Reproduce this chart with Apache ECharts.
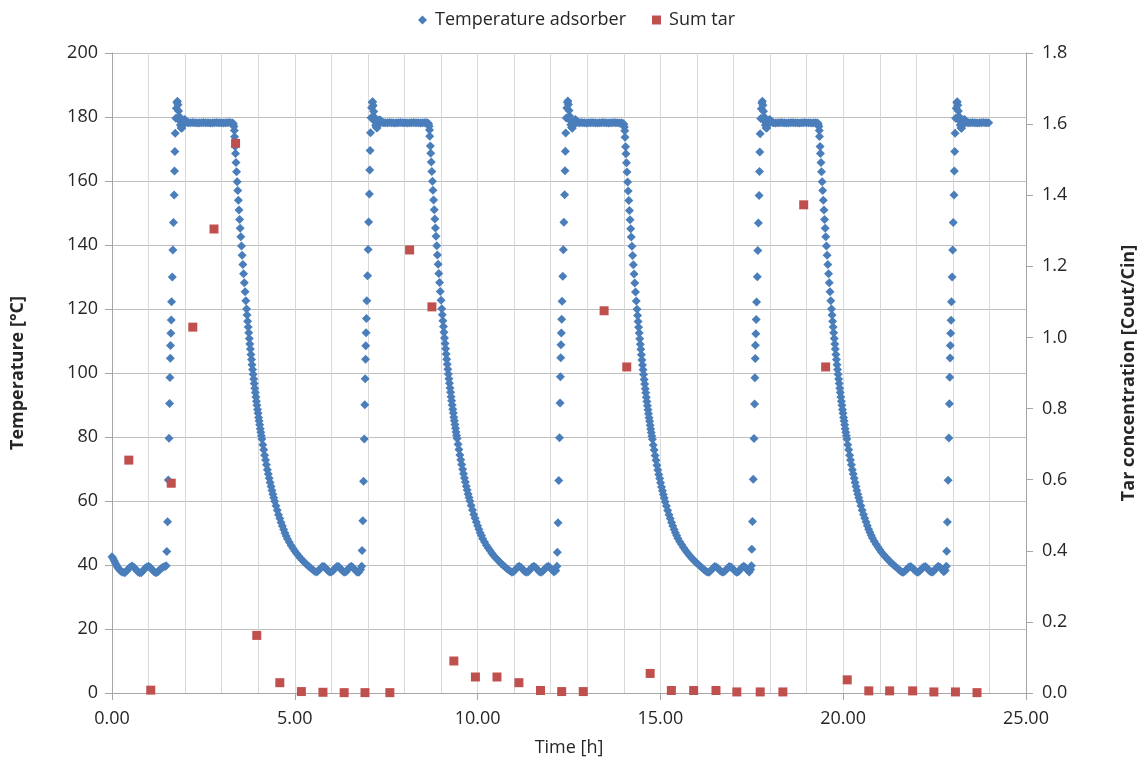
<!DOCTYPE html>
<html>
<head>
<meta charset="utf-8">
<title>Temperature adsorber / Sum tar</title>
<script src="https://cdn.jsdelivr.net/npm/echarts@6/dist/echarts.min.js"></script>
<style>
  html, body { margin: 0; padding: 0; background: #fff; }
  #chart { width: 1146px; height: 762px; }
</style>
</head>
<body>
<div id="chart"></div>
<script>
// time [h] at which each heating cycle starts
const cycleStarts = [1.50, 6.84, 12.18, 17.50, 22.83];

// temperature before the first heating: [time h, °C]
const tempStartup = [
  [0.00,42.6],[0.03,42.0],[0.06,41.3],[0.09,40.6],[0.12,40.0],[0.15,39.4],[0.18,38.9],[0.21,38.4],
  [0.25,38.0],[0.30,37.7],[0.35,37.6],[0.40,38.1],[0.45,38.8],[0.50,39.4],[0.55,39.7],[0.60,39.3],
  [0.65,38.7],[0.70,38.0],[0.75,37.6],[0.80,37.6],[0.85,38.2],[0.90,38.9],[0.95,39.4],[1.00,39.6],
  [1.05,39.2],[1.10,38.5],[1.15,37.9],[1.20,37.6],[1.25,37.8],[1.30,38.4],[1.35,39.0],[1.40,39.4],
  [1.45,39.5],[1.48,39.8]
];

// heating cycles: [hours since cycle start, °C]
const tempCycle1 = [
  [0.00,44.2],[0.02,53.5],[0.04,66.6],[0.06,79.6],[0.075,90.5],[0.085,98.6],[0.095,104.6],[0.10,108.6],
  [0.11,112.4],[0.12,116.6],[0.13,122.3],[0.15,130.0],[0.165,138.4],[0.18,147.0],[0.20,155.6],[0.21,163.1],
  [0.22,169.2],[0.23,174.9],[0.245,179.6],[0.26,182.7],[0.275,184.5],[0.29,184.9],[0.305,183.8],[0.32,181.9],
  [0.335,180.2],[0.35,178.8],[0.37,177.5],[0.39,176.6],[0.41,176.5],[0.43,177.3],[0.45,178.3],[0.47,179.0],
  [0.49,179.2],[0.51,178.9],[0.54,178.5],[0.57,178.3],
  [0.60,178.2],[0.65,178.2],[0.70,178.3],[0.75,178.2],[0.80,178.2],[0.85,178.1],[0.90,178.2],[0.95,178.2],
  [1.00,178.3],[1.05,178.2],[1.10,178.2],[1.15,178.2],[1.20,178.1],[1.25,178.2],[1.30,178.2],[1.35,178.3],
  [1.40,178.2],[1.45,178.2],[1.50,178.2],[1.55,178.1],[1.60,178.2],[1.65,178.2],[1.70,178.3],[1.75,178.2],
  [1.80,178.1],[1.82,177.8],[1.835,177.0],[1.845,175.8],[1.852,173.8],[1.867,170.8],[1.878,168.6],[1.892,165.8],
  [1.907,162.9],[1.924,159.8],[1.939,157.0],[1.956,154.0],[1.974,150.9],[1.991,148.0],[2.007,145.2],[2.023,142.6],
  [2.042,139.7],[2.06,136.8],[2.08,133.9],[2.099,131.0],[2.119,128.2],[2.139,125.4],[2.16,122.6],
  [2.18,120.0],[2.195,118.1],[2.21,116.2],[2.225,114.4],[2.24,112.6],[2.255,110.8],[2.27,109.1],[2.285,107.5],
  [2.30,105.8],[2.315,104.2],[2.33,102.6],[2.345,101.1],[2.36,99.6],[2.375,98.1],[2.39,96.7],[2.405,95.2],
  [2.42,93.9],[2.435,92.5],[2.45,91.2],[2.465,89.9],[2.48,88.6],[2.495,87.4],[2.51,86.1],[2.525,85.0],
  [2.54,83.8],[2.555,82.6],[2.57,81.5],[2.585,80.4],[2.60,79.4],[2.625,77.6],[2.65,76.0],[2.675,74.3],
  [2.70,72.8],[2.725,71.3],[2.75,69.8],[2.775,68.4],[2.80,67.1],[2.825,65.8],[2.85,64.5],[2.875,63.3],
  [2.90,62.1],[2.925,61.0],[2.95,59.9],[2.985,58.5],[3.02,57.1],[3.055,55.7],[3.09,54.5],[3.125,53.3],
  [3.16,52.2],[3.195,51.1],[3.23,50.0],[3.265,49.1],[3.30,48.1],[3.35,47.1],[3.40,46.1],[3.45,45.2],
  [3.50,44.4],[3.55,43.6],[3.60,42.9],[3.65,42.2],[3.70,41.6],[3.75,41.0],[3.80,40.4],[3.85,39.9],
  [3.90,39.4],[3.95,38.9],[4.00,38.4],[4.05,38.0],
  [4.10,37.8],[4.15,38.3],[4.20,38.9],[4.25,39.5],[4.30,39.5],[4.35,39.0],[4.40,38.3],[4.45,37.8],
  [4.50,37.8],[4.55,38.3],[4.60,39.0],[4.65,39.5],[4.70,39.5],[4.75,38.9],[4.80,38.2],[4.85,37.7],
  [4.90,37.9],[4.95,38.6],[5.00,39.3],[5.05,39.6],[5.10,39.1],[5.15,38.4],[5.20,37.8],[5.25,37.7],
  [5.30,38.6],[5.33,39.6]
];

const tempCycle2 = [
  [0.00,44.5],[0.02,53.8],[0.04,66.2],[0.06,79.4],[0.075,90.1],[0.085,98.2],[0.095,104.3],[0.10,108.5],
  [0.11,112.6],[0.12,117.0],[0.13,122.6],[0.15,130.4],[0.165,138.6],[0.18,147.2],[0.20,155.9],[0.21,163.4],
  [0.22,169.5],[0.23,175.1],[0.245,179.8],[0.26,182.9],[0.275,184.6],[0.29,184.8],[0.305,183.6],[0.32,181.7],
  [0.335,180.0],[0.35,178.6],[0.37,177.4],[0.39,176.7],[0.41,176.6],[0.43,177.4],[0.45,178.4],[0.47,179.1],
  [0.49,179.1],[0.51,178.8],[0.54,178.4],[0.57,178.3],
  [0.60,178.2],[0.65,178.2],[0.70,178.2],[0.75,178.3],[0.80,178.2],[0.85,178.2],[0.90,178.1],[0.95,178.2],
  [1.00,178.2],[1.05,178.3],[1.10,178.2],[1.15,178.2],[1.20,178.2],[1.25,178.1],[1.30,178.2],[1.35,178.2],
  [1.40,178.3],[1.45,178.2],[1.50,178.2],[1.55,178.2],[1.60,178.1],[1.65,178.2],[1.70,178.2],[1.75,178.3],
  [1.80,178.1],[1.82,177.8],[1.835,177.1],[1.845,175.9],[1.852,174.0],[1.867,170.9],[1.878,168.7],[1.892,165.9],
  [1.907,163.0],[1.924,159.9],[1.939,157.1],[1.956,154.1],[1.974,151.0],[1.991,148.1],[2.007,145.3],[2.023,142.7],
  [2.042,139.8],[2.06,136.9],[2.08,134.0],[2.099,131.1],[2.119,128.3],[2.139,125.5],[2.16,122.7],
  [2.18,120.1],[2.195,118.2],[2.21,116.3],[2.225,114.5],[2.24,112.7],[2.255,110.9],[2.27,109.2],[2.285,107.6],
  [2.30,105.9],[2.315,104.3],[2.33,102.7],[2.345,101.2],[2.36,99.7],[2.375,98.2],[2.39,96.8],[2.405,95.3],
  [2.42,94.0],[2.435,92.6],[2.45,91.3],[2.465,90.0],[2.48,88.7],[2.495,87.5],[2.51,86.2],[2.525,85.1],
  [2.54,83.9],[2.555,82.7],[2.57,81.6],[2.585,80.5],[2.60,79.5],[2.625,77.7],[2.65,76.1],[2.675,74.4],
  [2.70,72.9],[2.725,71.4],[2.75,69.9],[2.775,68.5],[2.80,67.2],[2.825,65.9],[2.85,64.6],[2.875,63.4],
  [2.90,62.2],[2.925,61.1],[2.95,60.0],[2.985,58.6],[3.02,57.2],[3.055,55.8],[3.09,54.6],[3.125,53.4],
  [3.16,52.3],[3.195,51.2],[3.23,50.1],[3.265,49.2],[3.30,48.2],[3.35,47.2],[3.40,46.2],[3.45,45.3],
  [3.50,44.5],[3.55,43.7],[3.60,43.0],[3.65,42.3],[3.70,41.7],[3.75,41.1],[3.80,40.5],[3.85,40.0],
  [3.90,39.5],[3.95,39.0],[4.00,38.5],[4.05,38.1],
  [4.10,37.7],[4.15,38.0],[4.20,38.7],[4.25,39.3],[4.30,39.6],[4.35,39.2],[4.40,38.6],[4.45,38.0],
  [4.50,37.7],[4.55,38.0],[4.60,38.7],[4.65,39.3],[4.70,39.6],[4.75,39.2],[4.80,38.5],[4.85,37.9],
  [4.90,37.7],[4.95,38.1],[5.00,38.8],[5.05,39.4],[5.10,39.6],[5.15,39.1],[5.20,38.4],[5.25,37.8],
  [5.30,38.3],[5.33,39.6]
];

const tempCycle3 = [
  [0.00,44.0],[0.02,53.2],[0.04,66.4],[0.06,79.8],[0.075,90.6],[0.085,98.8],[0.095,104.8],[0.10,108.8],
  [0.11,112.5],[0.12,116.8],[0.13,122.4],[0.15,130.2],[0.165,138.5],[0.18,147.1],[0.20,155.7],[0.21,163.2],
  [0.22,169.3],[0.23,175.0],[0.245,179.7],[0.26,182.8],[0.275,184.6],[0.29,185.0],[0.305,183.9],[0.32,182.0],
  [0.335,180.3],[0.35,178.9],[0.37,177.6],[0.39,176.7],[0.41,176.5],[0.43,177.2],[0.45,178.2],[0.47,178.9],
  [0.49,179.2],[0.51,179.0],[0.54,178.6],[0.57,178.3],
  [0.60,178.2],[0.65,178.3],[0.70,178.2],[0.75,178.2],[0.80,178.1],[0.85,178.2],[0.90,178.2],[0.95,178.3],
  [1.00,178.2],[1.05,178.2],[1.10,178.1],[1.15,178.2],[1.20,178.2],[1.25,178.3],[1.30,178.2],[1.35,178.2],
  [1.40,178.1],[1.45,178.2],[1.50,178.2],[1.55,178.3],[1.60,178.2],[1.65,178.2],[1.70,178.1],[1.75,178.2],
  [1.80,178.0],[1.82,177.7],[1.835,176.9],[1.845,175.7],[1.852,173.7],[1.867,170.7],[1.878,168.5],[1.892,165.7],
  [1.907,162.8],[1.924,159.7],[1.939,156.9],[1.956,153.9],[1.974,150.8],[1.991,147.9],[2.007,145.1],[2.023,142.5],
  [2.042,139.6],[2.06,136.7],[2.08,133.8],[2.099,130.9],[2.119,128.1],[2.139,125.3],[2.16,122.5],
  [2.18,119.9],[2.195,118.0],[2.21,116.1],[2.225,114.3],[2.24,112.5],[2.255,110.7],[2.27,109.0],[2.285,107.4],
  [2.30,105.7],[2.315,104.1],[2.33,102.5],[2.345,101.0],[2.36,99.5],[2.375,98.0],[2.39,96.6],[2.405,95.1],
  [2.42,93.8],[2.435,92.4],[2.45,91.1],[2.465,89.8],[2.48,88.5],[2.495,87.3],[2.51,86.0],[2.525,84.9],
  [2.54,83.7],[2.555,82.5],[2.57,81.4],[2.585,80.3],[2.60,79.3],[2.625,77.5],[2.65,75.9],[2.675,74.2],
  [2.70,72.7],[2.725,71.2],[2.75,69.7],[2.775,68.3],[2.80,67.0],[2.825,65.7],[2.85,64.4],[2.875,63.2],
  [2.90,62.0],[2.925,60.9],[2.95,59.8],[2.985,58.4],[3.02,57.0],[3.055,55.7],[3.09,54.5],[3.125,53.3],
  [3.16,52.2],[3.195,51.1],[3.23,50.1],[3.265,49.2],[3.30,48.3],[3.35,47.3],[3.40,46.4],[3.45,45.5],
  [3.50,44.7],[3.55,43.9],[3.60,43.2],[3.65,42.5],[3.70,41.9],[3.75,41.3],[3.80,40.7],[3.85,40.2],
  [3.90,39.7],[3.95,39.2],[4.00,38.7],[4.05,38.2],
  [4.10,37.8],[4.15,37.7],[4.20,38.3],[4.25,38.9],[4.30,39.5],[4.35,39.4],[4.40,38.9],[4.45,38.3],
  [4.50,37.8],[4.55,37.8],[4.60,38.3],[4.65,38.9],[4.70,39.5],[4.75,39.4],[4.80,38.8],[4.85,38.2],
  [4.90,37.7],[4.95,37.9],[5.00,38.6],[5.05,39.2],[5.10,39.6],[5.15,39.2],[5.20,38.4],[5.25,37.8],
  [5.29,38.6],[5.31,39.8]
];

const tempCycle4 = [
  [0.00,44.9],[0.02,53.6],[0.04,66.8],[0.06,79.5],[0.075,90.3],[0.085,98.5],[0.095,104.5],[0.10,108.7],
  [0.11,112.3],[0.12,116.7],[0.13,122.2],[0.15,130.1],[0.165,138.3],[0.18,146.9],[0.20,155.5],[0.21,163.0],
  [0.22,169.1],[0.23,174.8],[0.245,179.5],[0.26,182.6],[0.275,184.4],[0.29,184.9],[0.305,183.7],[0.32,181.8],
  [0.335,180.1],[0.35,178.7],[0.37,177.5],[0.39,176.6],[0.41,176.6],[0.43,177.4],[0.45,178.3],[0.47,179.0],
  [0.49,179.2],[0.51,178.9],[0.54,178.5],[0.57,178.3],
  [0.60,178.2],[0.65,178.1],[0.70,178.2],[0.75,178.2],[0.80,178.3],[0.85,178.2],[0.90,178.2],[0.95,178.1],
  [1.00,178.2],[1.05,178.2],[1.10,178.3],[1.15,178.2],[1.20,178.2],[1.25,178.2],[1.30,178.1],[1.35,178.2],
  [1.40,178.2],[1.45,178.3],[1.50,178.2],[1.55,178.2],[1.60,178.2],[1.65,178.1],[1.70,178.2],[1.75,178.2],
  [1.80,178.1],[1.82,177.8],[1.835,177.0],[1.845,175.8],[1.852,173.9],[1.867,170.8],[1.878,168.6],[1.892,165.8],
  [1.907,162.9],[1.924,159.8],[1.939,157.0],[1.956,154.0],[1.974,150.9],[1.991,148.0],[2.007,145.2],[2.023,142.6],
  [2.042,139.7],[2.06,136.8],[2.08,133.9],[2.099,131.0],[2.119,128.2],[2.139,125.4],[2.16,122.6],
  [2.18,120.0],[2.195,118.1],[2.21,116.2],[2.225,114.4],[2.24,112.6],[2.255,110.8],[2.27,109.1],[2.285,107.5],
  [2.30,105.8],[2.315,104.2],[2.33,102.6],[2.345,101.1],[2.36,99.6],[2.375,98.1],[2.39,96.7],[2.405,95.2],
  [2.42,93.9],[2.435,92.5],[2.45,91.2],[2.465,89.9],[2.48,88.6],[2.495,87.4],[2.51,86.1],[2.525,85.0],
  [2.54,83.8],[2.555,82.6],[2.57,81.5],[2.585,80.4],[2.60,79.4],[2.625,77.6],[2.65,76.0],[2.675,74.3],
  [2.70,72.8],[2.725,71.3],[2.75,69.8],[2.775,68.4],[2.80,67.1],[2.825,65.8],[2.85,64.5],[2.875,63.3],
  [2.90,62.1],[2.925,61.0],[2.95,59.9],[2.985,58.5],[3.02,57.1],[3.055,55.8],[3.09,54.6],[3.125,53.4],
  [3.16,52.3],[3.195,51.2],[3.23,50.2],[3.265,49.3],[3.30,48.4],[3.35,47.4],[3.40,46.5],[3.45,45.6],
  [3.50,44.8],[3.55,44.0],[3.60,43.3],[3.65,42.6],[3.70,42.0],[3.75,41.4],[3.80,40.8],[3.85,40.3],
  [3.90,39.8],[3.95,39.3],[4.00,38.8],[4.05,38.3],
  [4.10,37.8],[4.15,37.7],[4.20,38.2],[4.25,38.8],[4.30,39.4],[4.35,39.5],[4.40,39.0],[4.45,38.4],
  [4.50,37.9],[4.55,37.7],[4.60,38.2],[4.65,38.8],[4.70,39.4],[4.75,39.5],[4.80,39.0],[4.85,38.3],
  [4.90,37.8],[4.95,37.8],[5.00,38.4],[5.05,39.1],[5.10,39.6],[5.15,39.3],[5.20,38.6],[5.25,37.9],
  [5.29,38.3],[5.32,39.6]
];

// last cycle, logging stops on the plateau
const tempCycle5 = [
  [0.00,44.3],[0.02,53.4],[0.04,66.5],[0.06,79.7],[0.075,90.4],[0.085,98.7],[0.095,104.7],[0.10,108.6],
  [0.11,112.4],[0.12,116.5],[0.13,122.3],[0.15,130.0],[0.165,138.4],[0.18,147.0],[0.20,155.6],[0.21,163.1],
  [0.22,169.2],[0.23,174.9],[0.245,179.6],[0.26,182.7],[0.275,184.5],[0.29,184.8],[0.305,183.7],[0.32,181.9],
  [0.335,180.2],[0.35,178.8],[0.37,177.5],[0.39,176.6],[0.41,176.5],[0.43,177.3],[0.45,178.3],[0.47,179.0],
  [0.49,179.2],[0.51,178.9],[0.54,178.5],[0.57,178.3],
  [0.60,178.2],[0.65,178.2],[0.70,178.3],[0.75,178.2],[0.80,178.2],[0.85,178.1],[0.90,178.2],[0.95,178.2],
  [1.00,178.3],[1.05,178.2],[1.10,178.2],[1.15,178.2]
];

// sum tar, measured Cout/Cin
const tarTime = [
  0.46, 1.06, 1.62, 2.21, 2.79, 3.38, 3.96, 4.59, 5.18, 5.77, 6.35, 6.92, 7.60,
  8.14, 8.75, 9.35, 9.94, 10.53, 11.13, 11.72, 12.30, 12.89,
  13.46, 14.08, 14.72, 15.30, 15.91, 16.52, 17.09, 17.73, 18.35,
  18.92, 19.52, 20.11, 20.70, 21.27, 21.90, 22.48, 23.07, 23.66
];
const tarValue = [
  0.655, 0.008, 0.590, 1.029, 1.305, 1.546, 0.162, 0.029, 0.004, 0.002, 0.001, 0.001, 0.001,
  1.246, 1.086, 0.090, 0.045, 0.045, 0.029, 0.007, 0.004, 0.004,
  1.075, 0.917, 0.055, 0.007, 0.007, 0.007, 0.003, 0.003, 0.003,
  1.373, 0.917, 0.037, 0.006, 0.006, 0.006, 0.003, 0.003, 0.001
];

const tempCycles = [tempCycle1, tempCycle2, tempCycle3, tempCycle4, tempCycle5];
const tempData = tempStartup.slice();
tempCycles.forEach((cycle, i) => {
  cycle.forEach(([r, v]) => tempData.push([+(cycleStarts[i] + r).toFixed(3), v]));
});
const tarData = tarTime.map((t, i) => [t, tarValue[i]]);

const textColor = "#262626";
const axisGray = "#a6a6a6";

const chart = echarts.init(document.getElementById("chart"));
const option = {
  animation: false,
  textStyle: { fontFamily: "Open Sans", color: textColor },
  legend: {
    top: 6,
    left: 413,
    itemWidth: 9,
    itemHeight: 9,
    itemGap: 26,
    textStyle: { fontSize: 18, color: textColor, padding: [0, 0, 0, 3] },
    data: [
      { name: "Temperature adsorber", icon: "diamond" },
      { name: "Sum tar", icon: "rect" },
    ],
  },
  grid: {
    left: 112,
    right: 120,
    top: 53,
    bottom: 69,
  },
  xAxis: {
    type: "value",
    min: 0,
    max: 25,
    interval: 5,
    name: "Time [h]",
    nameLocation: "middle",
    nameGap: 46,
    nameTextStyle: { fontSize: 18, color: textColor },
    axisLine: { lineStyle: { color: axisGray } },
    axisTick: { show: true, length: 7, lineStyle: { color: axisGray } },
    axisLabel: {
      fontSize: 18,
      margin: 17,
      color: textColor,
      formatter: (v) => v.toFixed(2),
    },
    splitLine: { show: true, lineStyle: { color: "#d9d9d9" } },
    minorTick: { show: false, splitNumber: 5 },
    minorSplitLine: { show: true, lineStyle: { color: "#d9d9d9" } },
  },
  yAxis: [
    {
      type: "value",
      min: 0,
      max: 200,
      interval: 20,
      name: "Temperature [°C]",
      nameLocation: "middle",
      nameGap: 85,
      nameTextStyle: { fontSize: 18, fontWeight: "bold", color: textColor },
      axisLine: { show: true, lineStyle: { color: axisGray } },
      axisTick: { show: true, length: 7, lineStyle: { color: axisGray } },
      axisLabel: { fontSize: 18, margin: 14, color: textColor },
      splitLine: { show: true, lineStyle: { color: "#bfbfbf" } },
    },
    {
      type: "value",
      position: "right",
      min: 0,
      max: 1.8,
      interval: 0.2,
      name: "Tar concentration [Cout/Cin]",
      nameLocation: "middle",
      nameGap: 94,
      nameTextStyle: { fontSize: 18, fontWeight: "bold", color: textColor },
      axisLine: { show: true, lineStyle: { color: axisGray } },
      axisTick: { show: true, length: 7, lineStyle: { color: axisGray } },
      axisLabel: {
        fontSize: 18,
        margin: 16,
        color: textColor,
        formatter: (v) => v.toFixed(1),
      },
      splitLine: { show: false },
    },
  ],
  series: [
    {
      name: "Temperature adsorber",
      type: "scatter",
      yAxisIndex: 0,
      symbol: "diamond",
      symbolSize: 9,
      itemStyle: { color: "#4a7ebb", opacity: 1 },
      data: tempData,
    },
    {
      name: "Sum tar",
      type: "scatter",
      yAxisIndex: 1,
      symbol: "rect",
      symbolSize: 9,
      itemStyle: { color: "#c0504d", opacity: 1 },
      data: tarData,
    },
  ],
};

chart.setOption(option);
window.addEventListener("resize", () => {
  chart.resize();
});
</script>
</body>
</html>
